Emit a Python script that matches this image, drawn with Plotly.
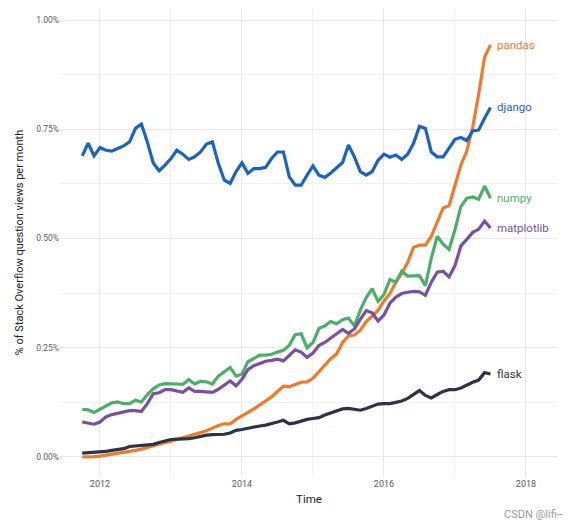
import plotly.graph_objects as go

# Monthly data: Oct 2011 .. Jul 2017 (70 months), % of Stack Overflow question views
start_year = 2011
start_month = 10
n_months = 70

django = [0.689, 0.718, 0.689, 0.708, 0.702, 0.700, 0.706, 0.712, 0.721, 0.752,
          0.762, 0.721, 0.673, 0.655, 0.668, 0.683, 0.702, 0.693, 0.681, 0.687,
          0.698, 0.716, 0.721, 0.672, 0.634, 0.626, 0.653, 0.673, 0.649, 0.660,
          0.660, 0.663, 0.683, 0.698, 0.698, 0.641, 0.622, 0.622, 0.645, 0.666,
          0.645, 0.640, 0.650, 0.663, 0.674, 0.714, 0.687, 0.653, 0.645, 0.653,
          0.679, 0.693, 0.686, 0.691, 0.681, 0.693, 0.718, 0.757, 0.752, 0.698,
          0.687, 0.687, 0.708, 0.727, 0.731, 0.724, 0.746, 0.748, 0.775, 0.800]

pandas = [0.000, 0.000, 0.001, 0.002, 0.004, 0.006, 0.008, 0.010, 0.012, 0.015,
          0.018, 0.022, 0.026, 0.030, 0.033, 0.036, 0.040, 0.044, 0.048, 0.052,
          0.056, 0.060, 0.066, 0.072, 0.076, 0.076, 0.086, 0.095, 0.102, 0.110,
          0.118, 0.128, 0.138, 0.150, 0.162, 0.161, 0.167, 0.171, 0.172, 0.180,
          0.195, 0.210, 0.225, 0.236, 0.262, 0.277, 0.279, 0.290, 0.310, 0.322,
          0.336, 0.357, 0.374, 0.400, 0.420, 0.445, 0.480, 0.485, 0.485, 0.505,
          0.540, 0.570, 0.575, 0.620, 0.668, 0.700, 0.755, 0.830, 0.915, 0.943]

numpy_ = [0.109, 0.108, 0.102, 0.110, 0.118, 0.124, 0.126, 0.122, 0.122, 0.130,
          0.126, 0.143, 0.156, 0.165, 0.168, 0.168, 0.167, 0.166, 0.177, 0.167,
          0.173, 0.172, 0.167, 0.185, 0.196, 0.205, 0.185, 0.190, 0.218, 0.225,
          0.233, 0.233, 0.235, 0.240, 0.244, 0.256, 0.280, 0.282, 0.250, 0.262,
          0.294, 0.300, 0.310, 0.305, 0.314, 0.318, 0.300, 0.336, 0.365, 0.385,
          0.356, 0.372, 0.406, 0.400, 0.425, 0.414, 0.414, 0.415, 0.392, 0.455,
          0.505, 0.487, 0.475, 0.520, 0.573, 0.592, 0.595, 0.590, 0.620, 0.592]

matplotlib_ = [0.080, 0.078, 0.075, 0.080, 0.092, 0.097, 0.100, 0.103, 0.106, 0.106,
               0.104, 0.122, 0.145, 0.147, 0.154, 0.154, 0.151, 0.148, 0.158, 0.150,
               0.150, 0.149, 0.148, 0.155, 0.165, 0.174, 0.163, 0.178, 0.200, 0.209,
               0.214, 0.219, 0.221, 0.224, 0.220, 0.232, 0.245, 0.240, 0.228, 0.238,
               0.255, 0.262, 0.272, 0.281, 0.292, 0.283, 0.293, 0.315, 0.335, 0.330,
               0.311, 0.325, 0.352, 0.366, 0.374, 0.377, 0.379, 0.378, 0.370, 0.400,
               0.423, 0.425, 0.412, 0.438, 0.483, 0.498, 0.514, 0.521, 0.540, 0.524]

flask = [0.009, 0.010, 0.010, 0.011, 0.013, 0.015, 0.017, 0.019, 0.024, 0.025,
         0.027, 0.027, 0.029, 0.033, 0.036, 0.040, 0.041, 0.041, 0.042, 0.044,
         0.047, 0.050, 0.051, 0.051, 0.052, 0.055, 0.061, 0.063, 0.066, 0.068,
         0.071, 0.073, 0.076, 0.080, 0.084, 0.076, 0.078, 0.082, 0.086, 0.088,
         0.090, 0.096, 0.101, 0.105, 0.110, 0.111, 0.109, 0.107, 0.111, 0.116,
         0.121, 0.122, 0.122, 0.125, 0.128, 0.134, 0.142, 0.152, 0.141, 0.135,
         0.143, 0.150, 0.154, 0.154, 0.158, 0.165, 0.171, 0.176, 0.193, 0.190]

series_names = ["pandas", "django", "numpy", "matplotlib", "flask"]
series_values = [pandas, django, numpy_, matplotlib_, flask]
series_colors = ["#f07a2a", "#1b63c0", "#4dae69", "#7a4fa0", "#2a3446"]

y_tickvals = [0, 0.25, 0.5, 0.75, 1.0]
y_ticktext = ["0.00%", "0.25%", "0.50%", "0.75%", "1.00%"]
x_tickvals = [2012, 2014, 2016, 2018]
x_ticktext = ["2012", "2014", "2016", "2018"]

# decimal-year positions of each month
months = [start_year + (start_month - 1) / 12 + i / 12 for i in range(n_months)]

fig = go.Figure()
for name, vals, col in zip(series_names, series_values, series_colors):
    fig.add_trace(go.Scatter(x=months, y=vals, mode="lines", name=name,
                             line=dict(color=col, width=3.2),
                             showlegend=False, hoverinfo="skip"))
    fig.add_annotation(x=months[-1], y=vals[-1], text=name, showarrow=False,
                       xanchor="left", yanchor="middle", xshift=5,
                       font=dict(family="Roboto", size=11.5, color=col))

fig.add_annotation(xref="paper", yref="paper", x=1.014, y=-0.0796,
                   text="CSDN @lifi--", showarrow=False, xanchor="right",
                   yanchor="middle",
                   font=dict(family="Roboto", size=11, color="#9a9a9a"))

grid = "#e8e8e8"
minor_grid = "#f2f2f2"
fig.update_layout(
    width=580, height=528,
    margin=dict(l=52, r=30, t=0, b=59),
    paper_bgcolor="white", plot_bgcolor="white",
    font=dict(family="Roboto", color="#555555"),
    xaxis=dict(range=[2011.437, 2018.451], tickvals=x_tickvals, ticktext=x_ticktext,
               showgrid=True, gridcolor=grid, gridwidth=1, zeroline=False,
               showline=False, ticks="", tickfont=dict(size=9, color="#5a5a5a"),
               minor=dict(tickvals=[2013, 2015, 2017], showgrid=True,
                          gridcolor=minor_grid, gridwidth=1, ticks=""),
               title=dict(text="Time", font=dict(size=11.5, color="#222222"),
                          standoff=6)),
    yaxis=dict(range=[-0.0458, 1.0275], tickvals=y_tickvals, ticktext=y_ticktext,
               showgrid=True, gridcolor=grid, gridwidth=1, zeroline=False,
               showline=False, ticks="", tickfont=dict(size=8.5, color="#5a5a5a"),
               minor=dict(tickvals=[0.125, 0.375, 0.625, 0.875], showgrid=True,
                          gridcolor=minor_grid, gridwidth=1, ticks=""),
               title=dict(text="% of Stack Overflow question views per month",
                          font=dict(size=11, color="#222222"), standoff=10)),
)

fig.write_html("out.html", config={"displayModeBar": False})
